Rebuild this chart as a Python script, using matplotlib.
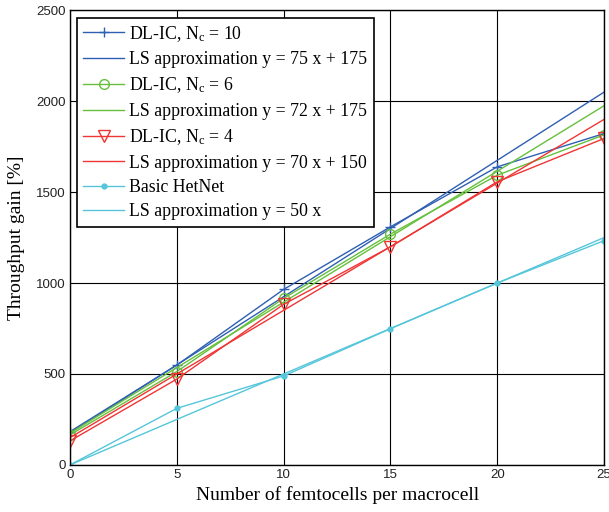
import matplotlib
matplotlib.use("Agg")
import matplotlib.pyplot as plt

# femtocells per macrocell
x = [0, 5, 10, 15, 20, 25]

# throughput gain [%]
dlic_10 = [183, 549, 965, 1309, 1639, 1822]
dlic_6 = [165, 513, 916, 1269, 1593, 1815]
dlic_4 = [132, 472, 883, 1199, 1557, 1795]
basic = [0, 311, 489, 749, 1000, 1233]

# least squares lines (values at the same x)
ls_10 = [175, 550, 925, 1300, 1675, 2050]
ls_6 = [175, 535, 895, 1255, 1615, 1975]
ls_4 = [150, 500, 850, 1200, 1550, 1900]
ls_basic = [0, 250, 500, 750, 1000, 1250]

blue = '#2f5fb3'
green = '#66c03c'
red = '#f03535'
cyan = '#55c6da'

plt.rcParams['mathtext.fontset'] = 'custom'
plt.rcParams['mathtext.rm'] = 'Liberation Serif'
plt.rcParams['mathtext.it'] = 'Liberation Serif:italic'

fig = plt.figure(figsize=(6.09, 5.12), dpi=100)
ax = fig.add_axes([0.115, 0.092, 0.877, 0.888])

lw = 1.0
ax.plot(x, dlic_10, color=blue, lw=lw, marker='+', ms=7, label=r'DL-IC, N$_{\mathrm{c}}$ = 10')
ax.plot(x, ls_10, color=blue, lw=lw, label='LS approximation y = 75 x + 175')
ax.plot(x, dlic_6, color=green, lw=lw, marker='o', ms=7, mfc='none', label=r'DL-IC, N$_{\mathrm{c}}$ = 6')
ax.plot(x, ls_6, color=green, lw=lw, label='LS approximation y = 72 x + 175')
ax.plot(x, dlic_4, color=red, lw=lw, marker='v', ms=8, mfc='none', label=r'DL-IC, N$_{\mathrm{c}}$ = 4')
ax.plot(x, ls_4, color=red, lw=lw, label='LS approximation y = 70 x + 150')
ax.plot(x, basic, color=cyan, lw=lw, marker='.', ms=7, label='Basic HetNet')
ax.plot(x, ls_basic, color=cyan, lw=lw, label='LS approximation y = 50 x')

ax.set_xlim(0, 25)
ax.set_ylim(0, 2500)
ax.set_xticks([0, 5, 10, 15, 20, 25])
ax.set_yticks([0, 500, 1000, 1500, 2000, 2500])
ax.grid(True, color='black', lw=0.8)
ax.tick_params(direction='in', length=0, labelsize=9.5, pad=3, labelcolor='#222222')
for lab in ax.get_xticklabels() + ax.get_yticklabels():
    lab.set_fontfamily('Liberation Sans')
for s in ax.spines.values():
    s.set_linewidth(1.0)

ax.set_xlabel('Number of femtocells per macrocell', fontfamily='Liberation Serif', fontsize=14, labelpad=4)
ax.set_ylabel('Throughput gain [%]', fontfamily='Liberation Serif', fontsize=14, labelpad=8)

leg = ax.legend(loc='upper left', bbox_to_anchor=(0.013, 0.984), prop={'family': 'Liberation Serif', 'size': 12.8},
                fancybox=False, framealpha=1, edgecolor='black', handlelength=2.3,
                handletextpad=0.3, borderpad=0.35, labelspacing=0.42, borderaxespad=0)
leg.get_frame().set_linewidth(1.2)

fig.savefig('out.png', dpi=100)
